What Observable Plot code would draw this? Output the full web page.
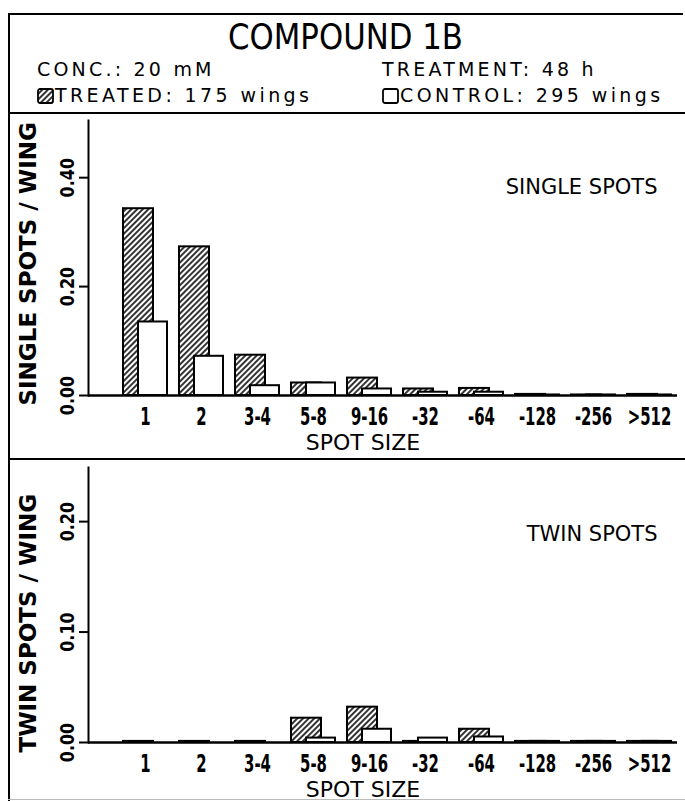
<!DOCTYPE html>
<html><head><meta charset="utf-8">
<script src="https://cdn.jsdelivr.net/npm/d3@7"></script>
<script src="https://cdn.jsdelivr.net/npm/@observablehq/plot@0.6"></script>
<style>
body{margin:0;background:#fff;}
#fig{position:relative;width:685px;height:801px;overflow:hidden;font-family:"DejaVu Sans",sans-serif;color:#000;background:#fff;}
.ln{position:absolute;background:#000;}
.t{position:absolute;white-space:nowrap;line-height:1;}
.panel{position:absolute;left:0;}
</style></head><body>
<div id="fig">
  <div class="ln" style="left:8px;top:13px;width:675px;height:2px"></div>
  <div class="ln" style="left:8px;top:13px;width:2px;height:788px"></div>
  <div class="ln" style="left:8px;top:112px;width:677px;height:2px"></div>
  <div class="ln" style="left:8px;top:458px;width:677px;height:2px"></div>
  <div class="ln" style="left:8px;top:799px;width:677px;height:1px;background:#bbb"></div>
  <div id="title" class="t" style="left:8px;width:675px;text-align:center;top:20px;font-size:35px;transform:scaleX(0.88);"></div>
  <div id="conc" class="t" style="left:37px;top:60px;font-size:19px;letter-spacing:3.2px"></div>
  <div id="treat" class="t" style="left:382px;top:60px;font-size:19px;letter-spacing:3.2px"></div>
  <div id="leg1" class="t" style="left:37px;top:86px;font-size:19px;letter-spacing:3.4px"></div>
  <div id="leg2" class="t" style="left:382px;top:86px;font-size:19px;letter-spacing:3.4px"></div>
  <div id="p1" class="panel" style="top:113px"></div>
  <div id="p2" class="panel" style="top:460px"></div>
</div>
<script>
const titleText = "COMPOUND 1B";
const concText = "CONC.: 20 mM";
const treatmentText = "TREATMENT: 48 h";
const seriesNames = ["TREATED: 175 wings", "CONTROL: 295 wings"];
const categories = ["1", "2", "3-4", "5-8", "9-16", "-32", "-64", "-128", "-256", ">512"];
const singleTreated = [0.343, 0.273, 0.074, 0.023, 0.032, 0.012, 0.013, 0.002, 0.001, 0.002];
const singleControl = [0.135, 0.072, 0.018, 0.023, 0.012, 0.006, 0.006, 0.001, 0.001, 0.001];
const twinTreated = [0.001, 0.001, 0.001, 0.022, 0.032, 0.001, 0.012, 0.001, 0.001, 0.001];
const twinControl = [0.000, 0.000, 0.000, 0.004, 0.012, 0.004, 0.005, 0.001, 0.001, 0.001];
const singleTicks = [0, 0.2, 0.4];
const twinTicks = [0, 0.1, 0.2];

document.getElementById("title").textContent = titleText;
document.getElementById("conc").textContent = concText;
document.getElementById("treat").textContent = treatmentText;
const sw = (hatch) => `<svg width="17" height="16" style="vertical-align:-2px;margin-right:1px">
  <defs><pattern id="lg${hatch?1:0}" patternUnits="userSpaceOnUse" width="4" height="4" patternTransform="rotate(45)">
  <line x1="1" y1="0" x2="1" y2="4" stroke="black" stroke-width="${hatch?1.6:0}"/></pattern></defs>
  <rect x="1" y="1" width="15" height="14" rx="2" fill="${hatch?'url(#lg1)':'white'}" stroke="black" stroke-width="1.8"/></svg>`;
document.getElementById("leg1").innerHTML = sw(true) + seriesNames[0];
document.getElementById("leg2").innerHTML = sw(false) + seriesNames[1];

function squash(svg, sel, sx, sy) {
  svg.querySelectorAll(sel).forEach(t => {
    const tr = t.getAttribute("transform") || "";
    t.setAttribute("transform", tr + ` scale(${sx},${sy})`);
  });
}

function panel(el, treated, control, yMax, yTicks, yLabel, note, height, marginBottom, pid) {
  const rows = categories.map((c, i) => ({cat: c, treated: treated[i], control: control[i]}));
  const svg = Plot.plot({
    width: 685, height, marginLeft: 88, marginRight: 8, marginTop: 7, marginBottom,
    style: {fontFamily: "DejaVu Sans, sans-serif", background: "transparent", color: "black", overflow: "visible"},
    x: {domain: categories, range: [117, 677], paddingInner: 12 / 56, paddingOuter: 6 / 56, align: 0.5},
    y: {domain: [0, yMax]},
    marks: [
      Plot.barY(rows, {x: "cat", y: "treated", fill: `url(#${pid})`, stroke: "black", strokeWidth: 2, insetRight: 14}),
      Plot.barY(rows, {x: "cat", y: "control", fill: "white", stroke: "black", strokeWidth: 2, insetLeft: 15}),
      Plot.ruleY([0], {strokeWidth: 2.5}),
      Plot.frame({anchor: "left", strokeWidth: 2}),
      Plot.axisY({ticks: yTicks, tickFormat: d3.format(".2f"), tickSize: 9, tickRotate: -90, tickPadding: 6, fontSize: 20, fontWeight: "bold", label: null, strokeWidth: 2}),
      Plot.axisX({tickSize: 0, tickPadding: 12, fontSize: 24, fontWeight: "bold", label: null}),
      Plot.text([yLabel], {text: d => d, frameAnchor: "bottom-left", textAnchor: "start", rotate: -90, dx: -53, dy: 10, fontSize: 23, fontWeight: "bold"}),
      Plot.text(["SPOT SIZE"], {text: d => d, frameAnchor: "bottom", dx: -20, dy: 54, fontSize: 22}),
      Plot.text([note], {text: d => d, frameAnchor: "top-right", textAnchor: "end", dx: -20, dy: 59, fontSize: 21})
    ]
  });
  const defs = d3.select(svg).insert("defs", ":first-child");
  defs.append("pattern").attr("id", pid).attr("patternUnits", "userSpaceOnUse")
    .attr("width", 4).attr("height", 4).attr("patternTransform", "rotate(45)")
    .call(p => { p.append("rect").attr("width", 4).attr("height", 4).attr("fill", "white");
                 p.append("line").attr("x1", 1).attr("y1", 0).attr("x2", 1).attr("y2", 4).attr("stroke", "black").attr("stroke-width", 1.6); });
  squash(svg, 'g[aria-label="x-axis tick label"] text', 0.62, 1);
  squash(svg, 'g[aria-label="y-axis tick label"] text', 0.8, 1);
  el.appendChild(svg);
}

panel(document.getElementById("p1"), singleTreated, singleControl, 0.505, singleTicks, "SINGLE SPOTS / WING", "SINGLE SPOTS", 345, 63, "h1");
panel(document.getElementById("p2"), twinTreated, twinControl, 0.249, twinTicks, "TWIN SPOTS / WING", "TWIN SPOTS", 341, 59, "h2");
</script>
</body></html>
